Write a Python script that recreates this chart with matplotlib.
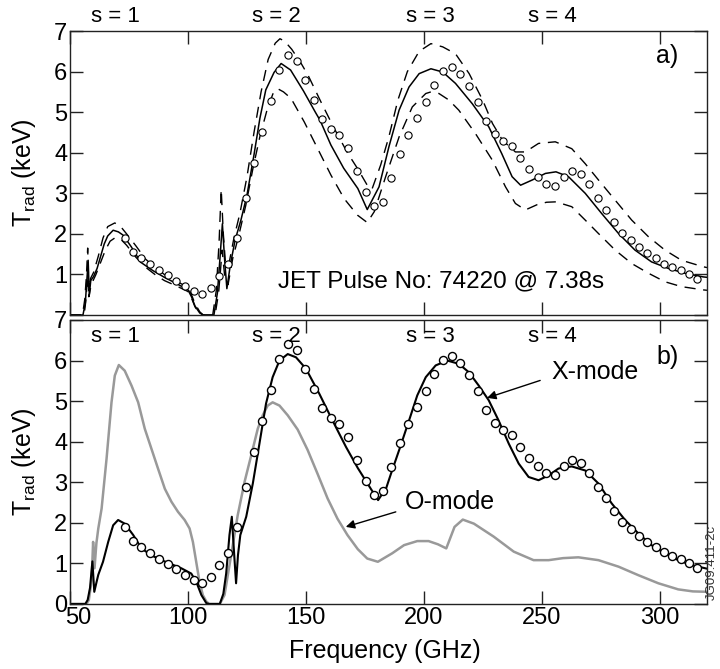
import matplotlib
matplotlib.use("Agg")
import matplotlib.pyplot as plt
from matplotlib.transforms import ScaledTranslation

plt.rcParams['font.family'] = ['Liberation Sans', 'DejaVu Sans']
plt.rcParams['mathtext.default'] = 'regular'

# measured ECE spectrum (circles, same in both panels)
meas_freq = [73.2, 76.8, 80.3, 84.1, 87.7, 91.4, 95.1, 98.7, 102.4, 106.1,
             109.6, 113.3, 117.1, 120.7, 124.4, 127.9, 131.6, 135.2, 138.8, 142.4,
             146.1, 149.7, 153.3, 156.9, 160.6, 164.2, 167.9, 171.5, 175.4, 178.9,
             182.6, 186.0, 189.9, 193.4, 197.2, 200.8, 204.3, 208.1, 211.8, 215.5,
             219.2, 222.9, 226.4, 230.0, 233.6, 237.4, 240.9, 244.5, 248.2, 251.6,
             255.7, 259.2, 263.0, 266.7, 270.0, 273.6, 277.1, 280.6, 284.1, 287.7,
             291.2, 294.7, 298.2, 301.8, 305.3, 309.0, 312.5, 315.8]
meas_trad = [1.89, 1.55, 1.41, 1.25, 1.12, 0.98, 0.85, 0.71, 0.59, 0.51,
             0.67, 0.96, 1.25, 1.89, 2.88, 3.75, 4.50, 5.28, 6.04, 6.41,
             6.25, 5.80, 5.30, 4.84, 4.59, 4.44, 4.11, 3.55, 3.03, 2.68,
             2.78, 3.37, 3.98, 4.44, 4.85, 5.26, 5.66, 6.02, 6.11, 5.94,
             5.65, 5.26, 4.79, 4.47, 4.30, 4.16, 3.87, 3.60, 3.40, 3.24,
             3.17, 3.39, 3.54, 3.47, 3.23, 2.88, 2.60, 2.29, 2.01, 1.84,
             1.67, 1.52, 1.41, 1.27, 1.19, 1.11, 1.00, 0.89]

# panel a) modelled spectrum and its error band
model_freq = [50, 55.5, 56.5, 57.2, 57.7, 58.2, 58.8, 60, 61.5, 63, 64.5, 66, 68.3, 70.5,
              72.5, 76, 80, 85, 90, 95, 100, 101.5, 103, 105, 106.5, 111, 112.5, 113.7,
              114.6, 115.5, 116.5, 118, 120, 122.5, 125, 128, 130.5, 133, 136.5, 139.5,
              143.5, 149, 154, 156, 160.6, 166, 172, 176, 181, 185.2, 189.5, 193.7, 198,
              203, 208, 213.4, 220.5, 227.5, 233, 237.4, 241, 246, 251.5, 256, 261.3,
              268.4, 275.4, 282.5, 289.5, 296.5, 303.6, 310.6, 318.4, 320]
model_trad = [0, 0, 0.3, 0.9, 1.35, 0.5, 0.85, 0.95, 1.15, 1.45, 1.75, 1.95, 2.09, 2.05,
              1.97, 1.68, 1.30, 1.10, 0.93, 0.78, 0.62, 0.45, 0.22, 0.05, 0, 0, 0.55, 1.5,
              2.25, 1.4, 0.65, 1.25, 1.85, 2.35, 2.95, 3.95, 4.85, 5.55, 5.98, 6.2,
              6.04, 5.52, 5.0, 4.8, 4.19, 3.62, 3.12, 2.6, 3.16, 4.15, 5.05, 5.62, 5.95,
              6.07, 5.99, 5.71, 5.21, 4.64, 3.98, 3.41, 3.2, 3.33, 3.49, 3.53, 3.41,
              3.00, 2.50, 2.01, 1.60, 1.31, 1.15, 1.03, 0.94, 0.93]

upper_freq = [50, 55.3, 56.3, 57, 57.5, 58, 58.7, 60, 62, 64, 66, 69, 71.5, 74, 78, 82,
              86, 90, 95, 100, 101.5, 103, 105, 106.5, 110.5, 112, 113.2, 114.1, 115,
              116, 117.5, 119.5, 122, 125, 128, 131, 134, 137, 139, 141, 144, 148, 151,
              156.4, 162, 167.6, 172, 176, 178, 181.7, 185.2, 189, 193, 198, 203, 208,
              213.4, 219.2, 224.9, 229.1, 233.3, 238.8, 243, 248.6, 255.7, 262.7, 268.4,
              274, 281.1, 288.1, 295.2, 302.2, 309.2, 318.4, 320]
upper_trad = [0, 0, 0.4, 1.0, 1.65, 0.6, 0.9, 1.05, 1.45, 1.9, 2.18, 2.27, 2.18, 2.0, 1.7,
              1.38, 1.18, 1.0, 0.84, 0.68, 0.5, 0.28, 0.08, 0, 0, 0.6, 1.8, 3.1, 2.0,
              1.2, 1.3, 1.9, 2.5, 3.4, 4.5, 5.5, 6.3, 6.7, 6.81, 6.75, 6.55, 6.2, 5.9,
              5.25, 4.6, 4.0, 3.6, 3.2, 3.1, 3.7, 4.4, 5.3, 6.0, 6.5, 6.69, 6.61,
              6.44, 5.95, 5.30, 4.72, 4.31, 4.02, 4.02, 4.23, 4.27, 4.10, 3.73,
              3.33, 2.83, 2.34, 1.93, 1.60, 1.35, 1.19, 1.17]

lower_freq = [50, 56, 56.8, 57.5, 58, 59, 61, 63, 65, 67, 69, 71.5, 74, 78, 82, 86, 90,
              95, 100, 101.5, 103, 105, 106.5, 111.5, 113, 114.5, 115.5, 117, 119, 121.5,
              124.5, 127.5, 130.5, 133.5, 136, 138, 140.5, 143.7, 149.3, 155, 160.6,
              166.2, 171.9, 176, 179, 183.8, 189.5, 195.1, 200.8, 203, 206.4, 210.6,
              214.8, 221.9, 229, 234.6, 238.8, 243, 248, 252, 256, 262.7, 268.4, 274,
              281.1, 288.1, 295.2, 302.2, 309.2, 318.4, 320]
lower_trad = [0, 0, 0.4, 1.0, 0.45, 0.75, 1.0, 1.3, 1.6, 1.82, 1.9, 1.87, 1.72, 1.42, 1.18,
              1.0, 0.85, 0.72, 0.58, 0.42, 0.2, 0.03, 0, 0, 0.55, 1.6, 1.0, 0.75, 1.4,
              1.95, 2.7, 3.6, 4.4, 5.05, 5.45, 5.58, 5.5, 5.34, 4.76, 4.10, 3.45,
              2.87, 2.46, 2.28, 2.55, 3.41, 4.39, 5.13, 5.46, 5.5, 5.46, 5.30,
              5.05, 4.47, 3.82, 3.16, 2.75, 2.59, 2.72, 2.78, 2.79, 2.67, 2.34, 2.01,
              1.60, 1.27, 1.03, 0.82, 0.70, 0.62, 0.61]

# panel b) X-mode and O-mode spectra
xmode_freq = [50, 56.5, 57.5, 58.5, 59.5, 60.3, 61.3, 62, 64, 66.2, 68.3, 70.4, 73.2, 76.8,
              80.3, 84.5, 88.8, 93, 97.2, 101.4, 103.5, 105.7, 107.8, 109, 113.5, 115,
              116.2, 117.6, 118.6, 119.4, 120.4, 121.2, 122.2, 124.7, 127.5, 130.3, 133.1,
              135.9, 138.8, 142.3, 145.8, 150, 155.7, 161.3, 167, 172, 177.5, 180.6, 184,
              186, 189.5, 193.7, 197.2, 200.8, 205, 209.9, 214.8, 219.1, 223.3, 227.5,
              231.7, 236, 240.2, 244.4, 248.6, 252.9, 257.1, 262.7, 268.4, 274, 279.6,
              285.3, 290.9, 296.5, 302.2, 307.8, 313.4, 320]
xmode_trad = [0, 0, 0.1, 0.4, 1.05, 0.3, 0.55, 0.72, 1.04, 1.53, 1.94, 2.07, 1.98, 1.70,
              1.37, 1.20, 1.08, 0.98, 0.88, 0.75, 0.55, 0.22, 0.02, 0, 0, 0.25,
              0.75, 1.7, 2.15, 1.4, 0.51, 1.2, 1.7, 2.15, 2.97, 3.95, 4.94,
              5.59, 6.00, 6.16, 6.08, 5.80, 5.18, 4.52, 3.87, 3.35, 2.84, 2.56, 2.85,
              3.2, 3.79, 4.52, 5.14, 5.59, 5.88, 6.00, 5.92, 5.71, 5.38, 5.02,
              4.52, 3.95, 3.46, 3.13, 3.05, 3.17, 3.34, 3.39, 3.29, 2.97, 2.48,
              2.07, 1.74, 1.45, 1.25, 1.08, 0.96, 0.87]

omode_freq = [50, 57, 58, 59.2, 59.8, 60.4, 61.2, 62, 63.4, 65.5, 67.6, 69, 70.7, 73.2,
              76.1, 78.9, 81.7, 84.5, 87.3, 90.2, 93, 95.8, 98.6, 100.7, 102.1, 103.5,
              104.9, 106.3, 107.8, 109, 113.5, 115.5, 118.3, 121.1, 124, 126.8, 129.6,
              131.7, 133.8, 135.9, 138.8, 142.3, 146.5, 150.7, 155, 159.2, 163.4, 167.6,
              172, 176, 180.5, 186.6, 191.6, 197.2, 202, 206, 209.5, 213, 216.5, 221.2,
              229.6, 238.1, 246.5, 252.9, 259, 265.5, 274, 282.5, 290.9, 299.4, 307.8,
              314, 320]
omode_trad = [0, 0, 0.1, 0.6, 1.53, 0.88, 1.5, 1.86, 2.35, 3.58, 4.97, 5.63, 5.89, 5.75,
              5.38, 4.97, 4.32, 3.83, 3.34, 2.84, 2.52, 2.27, 2.07, 1.86, 1.53, 1.04,
              0.55, 0.22, 0.06, 0, 0, 0.22, 1.20, 2.19, 3.01, 3.66, 4.32,
              4.65, 4.89, 4.97, 4.89, 4.65, 4.3, 3.8, 3.2, 2.6, 2.1, 1.7,
              1.35, 1.12, 1.04, 1.25, 1.45, 1.55, 1.55, 1.47, 1.37, 1.9, 2.08, 1.98,
              1.66, 1.29, 1.08, 1.08, 1.13, 1.15, 1.08, 0.92, 0.71, 0.51, 0.36,
              0.31, 0.30]

harmonic_labels = ['s = 1', 's = 2', 's = 3', 's = 4']
harmonic_freq = [69.4, 137.4, 202.9, 254.6]

freq_ticks = [50, 100, 150, 200, 250, 300]
trad_ticks = [0, 1, 2, 3, 4, 5, 6, 7]

frame = '#222222'
gray = '#999999'
arrow_style = dict(arrowstyle='-|>', color='black', lw=1, mutation_scale=13,
                   shrinkA=0, shrinkB=0)


def style_axes(ax):
    ax.set_xlim(50, 320)
    ax.set_ylim(0, 7)
    ax.set_xticks(freq_ticks)
    ax.set_yticks(trad_ticks)
    ax.tick_params(direction='in', length=9.5, width=1, top=True, right=True,
                   labelsize=17, pad=2, color=frame)
    for sp in ax.spines.values():
        sp.set_color(frame)
        sp.set_linewidth(1)


fig = plt.figure(figsize=(7.2, 6.69), dpi=100)
ax_a = fig.add_axes([0.0972, 0.5291, 0.8847, 0.4245])
ax_b = fig.add_axes([0.0972, 0.0972, 0.8847, 0.4245])

# ---- panel a)
style_axes(ax_a)
ax_a.plot(upper_freq, upper_trad, color='black', lw=1, ls=(0, (8, 5.5)))
ax_a.plot(lower_freq, lower_trad, color='black', lw=1, ls=(0, (8, 5.5)))
ax_a.plot(model_freq, model_trad, color='black', lw=1.1)
ax_a.plot(meas_freq, meas_trad, ls='none', marker='o', ms=5.2, mfc='white',
          mec='black', mew=0.8)
ax_a.set_xticklabels([])
ax_a.set_yticklabels([''] + [str(t) for t in trad_ticks[1:]])
ax_a.set_ylabel('T$_{rad}$ (keV)', fontsize=18)
ax_a.yaxis.set_label_coords(-0.05, 0.5)
for lab, f in zip(harmonic_labels, harmonic_freq):
    ax_a.text(f, 1.033, lab, transform=ax_a.get_xaxis_transform(), ha='center',
              va='baseline', fontsize=16)
ax_a.text(302.9, 6.2, 'a)', ha='center', va='baseline', fontsize=18)
ax_a.text(207.4, 0.68, 'JET Pulse No: 74220 @ 7.38s', ha='center', va='baseline',
          fontsize=17.5)

# ---- panel b)
style_axes(ax_b)
ax_b.plot(omode_freq, omode_trad, color=gray, lw=1.8)
ax_b.plot(xmode_freq, xmode_trad, color='black', lw=1.5)
ax_b.plot(meas_freq, meas_trad, ls='none', marker='o', ms=5.8, mfc='white',
          mec='black', mew=1)
ax_b.set_ylabel('T$_{rad}$ (keV)', fontsize=18)
ax_b.yaxis.set_label_coords(-0.05, 0.5)
ax_b.set_xlabel('Frequency (GHz)', fontsize=18)
ax_b.xaxis.set_label_coords(0.495, -0.125)
for lab, f in zip(harmonic_labels, harmonic_freq):
    ax_b.text(f, 0.924, lab, transform=ax_b.get_xaxis_transform(), ha='center',
              va='baseline', fontsize=16)
ax_b.text(303.2, 5.92, 'b)', ha='center', va='baseline', fontsize=18)

ax_b.text(272.6, 5.55, 'X-mode', ha='center', va='baseline', fontsize=18)
ax_b.annotate('', xy=(226.8, 5.08), xytext=(249.3, 5.51), arrowprops=arrow_style)
ax_b.text(210.9, 2.33, 'O-mode', ha='center', va='baseline', fontsize=18)
ax_b.annotate('', xy=(166.9, 1.90), xytext=(188.1, 2.27), arrowprops=arrow_style)

# nudge the first frequency label off the corner
lab50 = ax_b.xaxis.get_major_ticks()[0].label1
lab50.set_transform(lab50.get_transform() + ScaledTranslation(0.08, 0, fig.dpi_scale_trans))

fig.text(0.988, 0.16, 'JG09.411-2c', rotation=90, ha='center', va='center',
         fontsize=9.5, color='#333333')

fig.savefig('out.png', dpi=100)
